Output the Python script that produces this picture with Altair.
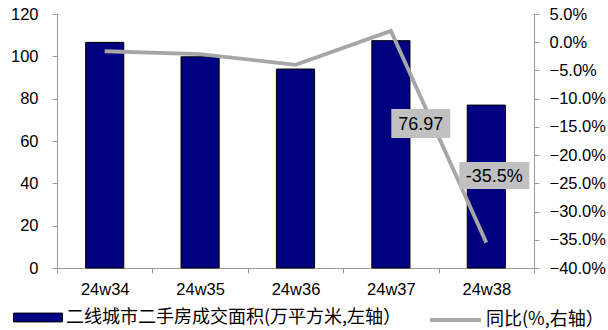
import altair as alt
import pandas as pd

# Weekly second-hand housing transactions in second-tier cities
weeks = ["24w34", "24w35", "24w36", "24w37", "24w38"]
area = [106.6, 99.8, 94.0, 107.4, 76.97]      # 万平方米 (left axis)
yoy = [-1.6, -2.1, -4.0, 2.0, -35.5]          # % (right axis)

bar_name = "二线城市二手房成交面积(万平方米,左轴）"
line_name = "同比(%,右轴）"

df = pd.DataFrame({
    "week": weeks,
    "area": area,
    "yoy": yoy,
    "bar_s": bar_name,
    "line_s": line_name,
})
last = df.iloc[[-1]].copy()
last["area_txt"] = [f"{v:.2f}" for v in last["area"]]
last["yoy_txt"] = [f"{v:.1f}%" for v in last["yoy"]]

FONT = "Liberation Sans"
CJK = "Noto Sans CJK SC"
NAVY = "#000080"
LINE_GRAY = "#a6a6a6"
BOX_GRAY = "#c0c0c0"

x_enc = alt.X(
    "week:N", sort=weeks,
    scale=alt.Scale(paddingInner=0, paddingOuter=0),
    axis=alt.Axis(title=None, labelAngle=0, tickBand="extent", labelPadding=8),
)

left_scale = alt.Scale(domain=[0, 120], nice=False, zero=True)
right_scale = alt.Scale(domain=[-40, 5], nice=False, zero=False)

bars = alt.Chart(df).mark_bar(
    width=alt.RelativeBandSize(0.4), stroke="black", strokeWidth=1
).encode(
    x=x_enc,
    y=alt.Y("area:Q", scale=left_scale,
            axis=alt.Axis(title=None, orient="left", values=[0, 20, 40, 60, 80, 100, 120],
                          labelPadding=14)),
    color=alt.Color("bar_s:N", scale=alt.Scale(range=[NAVY]),
                    legend=alt.Legend(
                        orient="none", legendX=-44, legendY=278.5, title=None,
                        symbolType="M-1,-0.18H1V0.18H-1Z", symbolSize=2401,
                        symbolStrokeColor="black", symbolStrokeWidth=1,
                        symbolFillColor=NAVY, symbolOpacity=1,
                        labelFont=CJK, labelFontSize=18, labelColor="black",
                        labelOffset=3, labelLimit=500, padding=0)),
)

line = alt.Chart(df).mark_line(strokeWidth=3.8).encode(
    x=x_enc,
    y=alt.Y("yoy:Q", scale=right_scale,
            axis=alt.Axis(title=None, orient="right", values=list(range(-40, 6, 5)),
                          labelExpr="format(datum.value, '.1f') + '%'", labelPadding=10)),
    stroke=alt.Stroke("line_s:N", scale=alt.Scale(range=[LINE_GRAY]),
                      legend=alt.Legend(
                          orient="none", legendX=371, legendY=278.5, title=None,
                          symbolType="stroke", symbolSize=2601, symbolStrokeWidth=4,
                          labelFont=CJK, labelFontSize=18, labelColor="black",
                          labelOffset=3, labelLimit=500, padding=0)),
)

# Value callouts for the latest week
box_area = alt.Chart(last).mark_point(
    shape="M-1,-0.49H1V0.49H-1Z", size=3481, filled=True, color=BOX_GRAY,
    opacity=1, xOffset=-65.5, yOffset=18.4,
).encode(x=x_enc, y=alt.Y("area:Q", scale=left_scale, axis=None))

txt_area = alt.Chart(last).mark_text(
    font=FONT, fontSize=18, color="black", align="center", baseline="middle",
    dx=-65.5, dy=19.5,
).encode(x=x_enc, y=alt.Y("area:Q", scale=left_scale, axis=None), text="area_txt:N")

box_yoy = alt.Chart(last).mark_point(
    shape="M-1,-0.386H1V0.386H-1Z", size=4900, filled=True, color=BOX_GRAY,
    opacity=1, xOffset=8, yOffset=-67,
).encode(x=x_enc, y=alt.Y("yoy:Q", scale=right_scale, axis=None))

txt_yoy = alt.Chart(last).mark_text(
    font=FONT, fontSize=18, color="black", align="center", baseline="middle",
    dx=8, dy=-66,
).encode(x=x_enc, y=alt.Y("yoy:Q", scale=right_scale, axis=None), text="yoy_txt:N")

chart = alt.layer(bars, line, box_area, txt_area, box_yoy, txt_yoy).resolve_scale(
    y="independent"
).properties(
    width=477, height=254,
    autosize=alt.AutoSizeParams(type="none"),
    padding={"left": 57, "top": 14, "right": 74, "bottom": 62},
).configure_view(stroke=None).configure_axis(
    domainColor="#999999", tickColor="#999999", tickSize=5, grid=False,
    labelFont=FONT, labelFontSize=16.5, labelColor="black",
)

chart.save("out.html", embed_options={"renderer": "svg", "actions": False})
